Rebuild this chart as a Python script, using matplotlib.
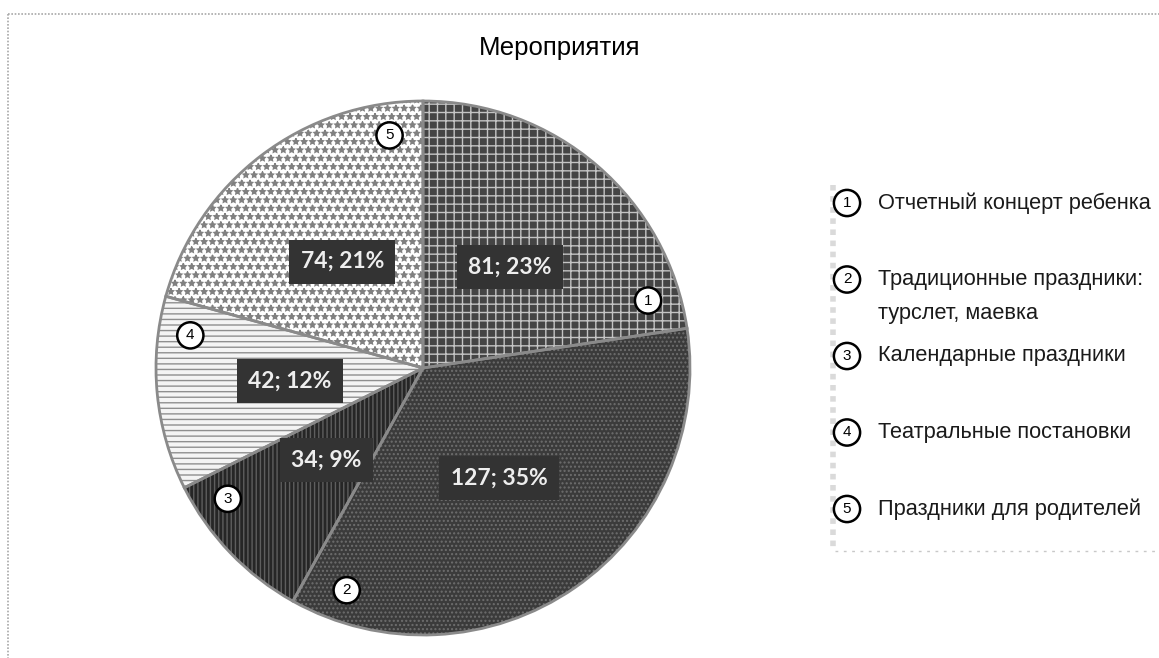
import numpy as np
import matplotlib.pyplot as plt
from matplotlib.lines import Line2D

plt.rcParams['font.family'] = ['Liberation Sans', 'DejaVu Sans']
plt.rcParams['hatch.linewidth'] = 1.0

# data
title = 'Мероприятия'
categories = ['Отчетный концерт ребенка',
              'Традиционные праздники:\nтурслет, маевка',
              'Календарные праздники',
              'Театральные постановки',
              'Праздники для родителей']
counts = [81, 127, 34, 42, 74]
numbers = ['1', '2', '3', '4', '5']

# styles (grayscale fill patterns)
faces = ['#444444', '#3b3b3b', '#262626', '#f4f4f4', '#ffffff']
hatch_cols = ['#c4c4c4', '#6e6e6e', '#5e5e5e', '#8f8f8f', '#808080']
hatches = ['++', '....', '||||', '---', '**']
# where the numbered circle sits inside each wedge (fraction of the sweep)
num_frac = [0.90, 0.92, 0.79, 0.82, 0.89]

W, H = 1159, 658
fig = plt.figure(figsize=(W / 100, H / 100), dpi=100)

# pie axes: centre (423, 368) px, radius 267 px
cx, cy, r = 423, 368, 267
ax = fig.add_axes([(cx - r) / W, (H - cy - r) / H, 2 * r / W, 2 * r / H])

total = sum(counts)


def fmt(p):
    return f'{round(p * total / 100)}; {p:.0f}%'


wedges, texts, autotexts = ax.pie(counts, startangle=90, counterclock=False,
                                  radius=1, colors=faces, autopct=fmt,
                                  pctdistance=0.5,
                                  wedgeprops=dict(linewidth=0))
for w, h, hc in zip(wedges, hatches, hatch_cols):
    w.set_hatch(h)
    w.set_edgecolor(hc)
    w.set_linewidth(0)

# slice outlines
ax.pie(counts, startangle=90, counterclock=False, radius=1,
       colors=['none'] * len(counts),
       wedgeprops=dict(edgecolor='#8a8a8a', linewidth=2, fill=False))

ax.set_xlim(-1, 1)
ax.set_ylim(-1, 1)
ax.set_aspect('equal')
ax.axis('off')

for t in autotexts:
    t.set_fontfamily(['Lato', 'DejaVu Sans'])
    t.set_fontweight('bold')
    t.set_fontsize(16.5)
    t.set_color('#eeeeee')
    t.set_bbox(dict(boxstyle='square,pad=0.5', fc='#333333', ec='none'))
    t.set_zorder(5)

# numbered circles on the slices
for w, n, f in zip(wedges, numbers, num_frac):
    a = np.deg2rad(w.theta2 - f * (w.theta2 - w.theta1))
    ax.text(0.88 * np.cos(a), 0.88 * np.sin(a), n, ha='center', va='center',
            fontsize=11, zorder=6,
            bbox=dict(boxstyle='circle,pad=0.4', fc='white', ec='black', lw=1.8))

# title
fig.text(560 / W, 1 - 48 / H, title, ha='center', va='center', fontsize=18.5)

# legend (manual)
leg_y0, leg_step, line_gap = 203, 76.5, 34
leg_circ_x, leg_text_x = 847, 878
for i, (n, lab) in enumerate(zip(numbers, categories)):
    y = leg_y0 + i * leg_step
    fig.text(leg_circ_x / W, 1 - y / H, n, ha='center', va='center', fontsize=11,
             bbox=dict(boxstyle='circle,pad=0.4', fc='white', ec='black', lw=1.8))
    for j, line in enumerate(lab.split('\n')):
        fig.text(leg_text_x / W, 1 - (y + j * line_gap) / H, line,
                 ha='left', va='center', fontsize=15.7, color='#1a1a1a')

# legend frame (dotted, left and bottom only)
fig.add_artist(Line2D([833 / W, 833 / W], [1 - 185 / H, 1 - 551 / H],
                      transform=fig.transFigure, color='#dadada', lw=4,
                      linestyle=(0, (1, 1))))
fig.add_artist(Line2D([835 / W, 1.0], [1 - 551 / H, 1 - 551 / H],
                      transform=fig.transFigure, color='#c8c8c8', lw=1,
                      linestyle=(0, (2, 4))))

# chart area border (dotted, top and left)
fig.add_artist(Line2D([8 / W, 1.0], [1 - 14 / H, 1 - 14 / H],
                      transform=fig.transFigure, color='#a8a8a8', lw=1.2,
                      linestyle=(0, (1, 1))))
fig.add_artist(Line2D([8 / W, 8 / W], [1 - 14 / H, 0.0],
                      transform=fig.transFigure, color='#a8a8a8', lw=1.2,
                      linestyle=(0, (1, 1))))

fig.savefig('out.png', dpi=100)
